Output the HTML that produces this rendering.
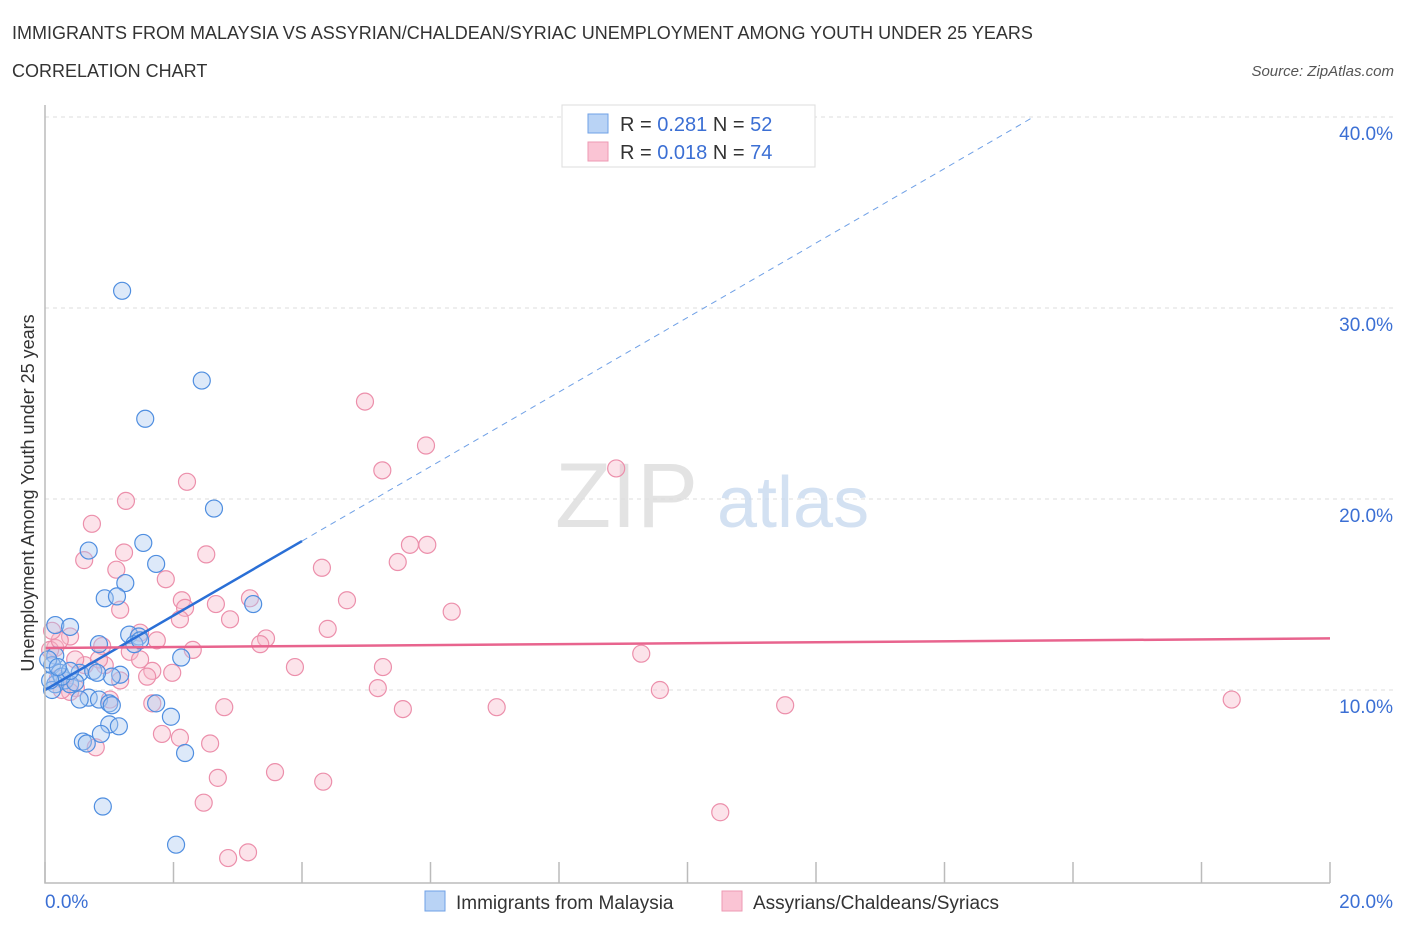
<!DOCTYPE html>
<html><head><meta charset="utf-8"><style>
body{margin:0;background:#fff;font-family:"Liberation Sans",sans-serif;}
svg text{font-family:"Liberation Sans",sans-serif;}
</style></head><body>
<svg id="chart" width="1406" height="930" xmlns="http://www.w3.org/2000/svg">
<text x="12" y="39" font-size="18" fill="#333">IMMIGRANTS FROM MALAYSIA VS ASSYRIAN/CHALDEAN/SYRIAC UNEMPLOYMENT AMONG YOUTH UNDER 25 YEARS</text>
<text x="12" y="77" font-size="18" fill="#333">CORRELATION CHART</text>
<text x="1394" y="76" font-size="15" fill="#555" font-style="italic" text-anchor="end">Source: ZipAtlas.com</text>
<g id="grid"></g>
<text x="555" y="527" font-size="92" fill="#ddd" font-family="Liberation Serif" opacity="0.8">ZIP</text>
<text x="717" y="527" font-size="72" fill="#c9daf0" opacity="0.8">atlas</text>
<g id="pts"></g>
<g id="lines"></g>
<g id="axes"></g>
<text transform="translate(34,493) rotate(-90)" font-size="18" fill="#333" text-anchor="middle">Unemployment Among Youth under 25 years</text>
<g>
<rect x="562" y="105" width="253" height="62" fill="#fff" stroke="#ddd"/>
<rect x="588" y="114" width="20" height="19" fill="#b9d3f5" stroke="#6fa0e6"/>
<rect x="588" y="142" width="20" height="19" fill="#fac4d4" stroke="#ee9ab3"/>
<text x="620" y="131" font-size="20" fill="#333">R = <tspan fill="#3b6fd4">0.281</tspan>   N = <tspan fill="#3b6fd4">52</tspan></text>
<text x="620" y="159" font-size="20" fill="#333">R = <tspan fill="#3b6fd4">0.018</tspan>   N = <tspan fill="#3b6fd4">74</tspan></text>
</g>
<g>
<rect x="425" y="891" width="20" height="20" fill="#b9d3f5" stroke="#6fa0e6"/>
<text x="456" y="909" font-size="19" fill="#333">Immigrants from Malaysia</text>
<rect x="722" y="891" width="20" height="20" fill="#fac4d4" stroke="#ee9ab3"/>
<text x="753" y="909" font-size="19" fill="#333">Assyrians/Chaldeans/Syriacs</text>
</g>
</svg>
<script>
const blueX=[1.20,2.44,1.56,2.63,0.68,1.53,1.73,1.25,0.93,1.12,3.24,0.16,0.39,1.31,1.46,0.84,1.39,2.12,0.16,0.11,0.23,0.54,0.75,1.17,1.04,0.31,0.16,0.39,0.47,0.11,0.68,0.54,0.84,1.0,1.73,1.96,1.0,1.15,0.87,0.59,0.65,2.18,0.9,2.04,0.05,0.26,1.48,0.81,0.39,0.08,0.2,1.04];
const blueY=[30.9,26.2,24.2,19.5,17.3,17.7,16.6,15.6,14.8,14.9,14.5,13.4,13.3,12.9,12.8,12.4,12.4,11.7,11.8,11.3,10.9,10.9,11.0,10.8,10.7,10.5,10.3,10.3,10.4,10.0,9.6,9.5,9.5,9.3,9.3,8.6,8.2,8.1,7.7,7.3,7.2,6.7,3.9,1.9,11.6,10.7,12.6,10.9,11.0,10.5,11.2,9.2];
const pinkX=[4.98,5.93,8.89,5.25,2.21,1.26,0.73,1.23,2.51,5.68,5.95,5.49,4.31,0.61,1.11,1.88,3.19,4.7,2.13,2.18,2.66,6.33,1.17,4.4,0.39,1.48,1.74,3.44,3.35,2.3,0.89,1.32,9.28,0.16,3.89,5.26,1.67,0.93,0.62,1.98,1.59,0.2,1.17,0.48,5.18,9.57,0.39,1.67,2.79,5.57,7.03,11.52,18.47,1.82,2.1,2.57,0.79,2.69,3.58,4.33,2.47,10.51,3.16,2.85,0.08,1.01,0.26,1.48,2.88,0.84,0.23,0.47,2.1,0.11];
const pinkY=[25.1,22.8,21.6,21.5,20.9,19.9,18.7,17.2,17.1,17.6,17.6,16.7,16.4,16.8,16.3,15.8,14.8,14.7,14.7,14.3,14.5,14.1,14.2,13.2,12.8,13.0,12.6,12.7,12.4,12.1,12.3,12.0,11.9,12.2,11.2,11.2,11.0,11.3,11.3,10.9,10.7,10.6,10.5,10.1,10.1,10.0,9.9,9.3,9.1,9.0,9.1,9.2,9.5,7.7,7.5,7.2,7.0,5.4,5.7,5.2,4.1,3.6,1.5,1.2,12.1,9.5,10.0,11.6,13.7,11.6,12.6,11.6,13.7,13.1];
const yTicks=[10,20,30,40];
const yTickLabels=["10.0%","20.0%","30.0%","40.0%"];
const xTicks=[0,2,4,6,8,10,12,14,16,18,20];
const blueTrend=[10.0,1.95];   // intercept, slope
const pinkTrend=[12.2,0.025];
const NS="http://www.w3.org/2000/svg";
const X0=45,X1=1330,Y0=881;
const sx=v=>X0+(X1-X0)*v/20;
const sy=v=>Y0-v*19.1;
function mk(tag,attrs,parent){const e=document.createElementNS(NS,tag);for(const k in attrs)e.setAttribute(k,attrs[k]);parent.appendChild(e);return e;}
const grid=document.getElementById('grid'),axes=document.getElementById('axes'),pts=document.getElementById('pts'),lines=document.getElementById('lines');
yTicks.forEach((t,i)=>{
 const l=mk('line',{x1:X0,x2:1395,y1:sy(t),y2:sy(t),stroke:'#ddd','stroke-dasharray':'4,4'},grid);
 
 
 const tx=mk('text',{x:1393,y:sy(t)+23,'font-size':19,fill:'#3b6fd4','text-anchor':'end'},axes);
 tx.textContent=yTickLabels[i];
 
 
});
const ax=mk('path',{d:`M${X0},105 L${X0},${Y0+2} L${X1},${Y0+2}`,fill:'none',stroke:'#bbb','stroke-width':1.5},axes);


xTicks.forEach(t=>{
 const l=mk('line',{x1:sx(t),x2:sx(t),y1:Y0-19,y2:Y0+2,stroke:'#bbb','stroke-width':1.5},axes);
 
 
});
const xl0=mk('text',{x:45,y:908,'font-size':19,fill:'#3b6fd4'},axes);xl0.textContent='0.0%';


const xl1=mk('text',{x:1393,y:908,'font-size':19,fill:'#3b6fd4','text-anchor':'end'},axes);xl1.textContent='20.0%';


function draw(xs,ys,fill,stroke,name){xs.forEach((x,i)=>{
 const c=mk('circle',{cx:sx(x),cy:sy(ys[i]),r:8.5,fill:fill,'fill-opacity':0.4,stroke:stroke,'stroke-width':1.2},pts);
 
 
});}
draw(pinkX,pinkY,'#f8b8cb','#ec8fab','pink-point');
draw(blueX,blueY,'#a9c8f0','#4f8ee0','blue-point');
const bx2=(40-blueTrend[0])/blueTrend[1];
const bd=mk('line',{x1:sx(4),y1:sy(blueTrend[0]+blueTrend[1]*4),x2:sx(bx2),y2:sy(40),stroke:'#6fa0e6','stroke-dasharray':'6,5','stroke-width':1},lines);


const bs=mk('line',{x1:sx(0),y1:sy(blueTrend[0]),x2:sx(4),y2:sy(blueTrend[0]+blueTrend[1]*4),stroke:'#2a6fd6','stroke-width':2.5},lines);


const ps=mk('line',{x1:sx(0),y1:sy(pinkTrend[0]),x2:sx(20),y2:sy(pinkTrend[0]+pinkTrend[1]*20),stroke:'#e8648e','stroke-width':2.5},lines);


</script>
</body></html>
